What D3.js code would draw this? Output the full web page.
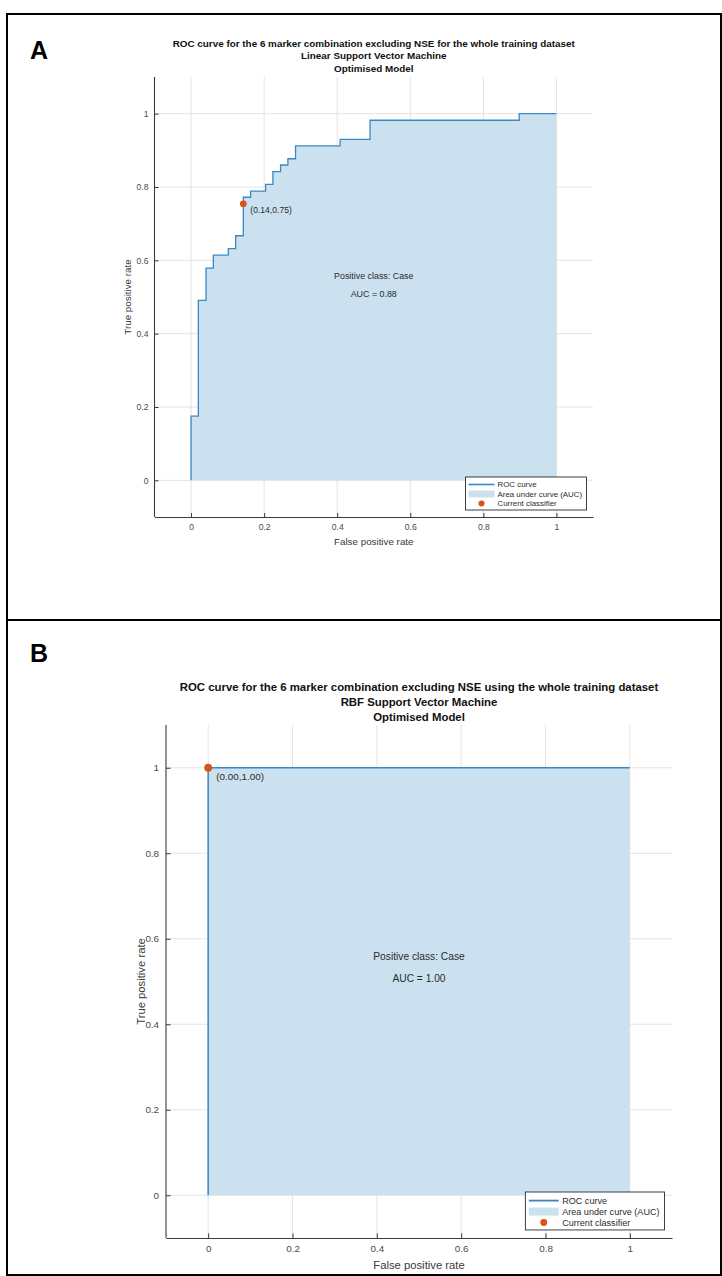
<!DOCTYPE html>
<html>
<head>
<meta charset="utf-8">
<script src="https://cdn.jsdelivr.net/npm/d3@7"></script>
<style>
body { margin: 0; background: #fff; }
text { font-family: "Liberation Sans", Arial, sans-serif; }
</style>
</head>
<body>
<div id="chart"></div>
<script>
// panel A: linear SVM, ROC corners (top of each vertical step)
var fprA = [0, 0, 0.020, 0.041, 0.061, 0.102, 0.122, 0.143, 0.163, 0.204, 0.224, 0.245, 0.265, 0.286, 0.408, 0.490, 0.898, 1.0];
var tprA = [0, 0.175, 0.491, 0.579, 0.614, 0.632, 0.667, 0.772, 0.789, 0.807, 0.842, 0.860, 0.877, 0.912, 0.930, 0.982, 1.0, 1.0];
var pointA = [0.143, 0.754];
var pointLabelA = '(0.14,0.75)';
var aucA = 'AUC = 0.88';
var titleA = ['ROC curve for the 6 marker combination excluding NSE for the whole training dataset',
    'Linear Support Vector Machine',
    'Optimised Model'];

// panel B: RBF SVM
var fprB = [0, 0, 1];
var tprB = [0, 1, 1];
var pointB = [0, 1];
var pointLabelB = '(0.00,1.00)';
var aucB = 'AUC = 1.00';
var titleB = ['ROC curve for the 6 marker combination excluding NSE using the whole training dataset',
    'RBF Support Vector Machine',
    'Optimised Model'];

var ticks = [0, 0.2, 0.4, 0.6, 0.8, 1];
var tickLabels = ['0', '0.2', '0.4', '0.6', '0.8', '1'];
var legendLabels = ['ROC curve', 'Area under curve (AUC)', 'Current classifier'];
var classText = 'Positive class: Case';
var xLabel = 'False positive rate';
var yLabel = 'True positive rate';

var W = 722, H = 1276;
var lineColor = '#3b88c3',
    fillColor = '#cbe1f0',
    dotColor = '#d95319';

var svg = d3.select('#chart').append('svg')
    .attr('width', W)
    .attr('height', H)
    .style('background', '#fff');

// outer frame + divider
svg.append('rect')
    .attr('x', 7).attr('y', 14)
    .attr('width', W - 8).attr('height', H - 15)
    .attr('fill', 'none')
    .attr('stroke', '#000')
    .attr('stroke-width', 2);
svg.append('line')
    .attr('x1', 7).attr('x2', W)
    .attr('y1', 620).attr('y2', 620)
    .attr('stroke', '#000')
    .attr('stroke-width', 2);

function drawPanel(p) {
    var xS = d3.scaleLinear().domain([-0.1, 1.1]).range([p.left, p.right]);
    var yS = d3.scaleLinear().domain([-0.1, 1.1]).range([p.bottom, p.top]);
    var k = p.k; // size factor
    var g = svg.append('g');

    g.append('text')
        .attr('x', p.labelX).attr('y', p.labelY)
        .style('font-size', '25px')
        .style('font-weight', 'bold')
        .text(p.letter);

    // grid
    g.selectAll('.gx').data(ticks).enter().append('line')
        .attr('x1', function (d) { return xS(d); })
        .attr('x2', function (d) { return xS(d); })
        .attr('y1', p.top).attr('y2', p.bottom)
        .attr('stroke', '#e4e4e4');
    g.selectAll('.gy').data(ticks).enter().append('line')
        .attr('y1', function (d) { return yS(d); })
        .attr('y2', function (d) { return yS(d); })
        .attr('x1', p.left).attr('x2', p.right)
        .attr('stroke', '#e4e4e4');

    var pts = p.fpr.map(function (f, i) { return [f, p.tpr[i]]; });
    var area = d3.area()
        .curve(d3.curveStepAfter)
        .x(function (d) { return xS(d[0]); })
        .y0(yS(0))
        .y1(function (d) { return yS(d[1]); });
    var line = d3.line()
        .curve(d3.curveStepAfter)
        .x(function (d) { return xS(d[0]); })
        .y(function (d) { return yS(d[1]); });
    g.append('path').datum(pts).attr('d', area).attr('fill', fillColor);
    g.append('path').datum(pts).attr('d', line)
        .attr('fill', 'none')
        .attr('stroke', lineColor)
        .attr('stroke-width', 1.3 * k);

    // axes
    var xAx = g.append('g')
        .attr('transform', 'translate(0,' + p.bottom + ')')
        .call(d3.axisBottom(xS).tickValues(ticks)
            .tickFormat(function (d, i) { return tickLabels[i]; })
            .tickSizeInner(-4 * k).tickSizeOuter(0).tickPadding(6.5 * k));
    var yAx = g.append('g')
        .attr('transform', 'translate(' + p.left + ',0)')
        .call(d3.axisLeft(yS).tickValues(ticks)
            .tickFormat(function (d, i) { return tickLabels[i]; })
            .tickSizeInner(-4 * k).tickSizeOuter(0).tickPadding(6 * k));
    [xAx, yAx].forEach(function (ax) {
        ax.select('.domain').attr('stroke', '#3a3a3a').attr('stroke-width', 1.1);
        ax.selectAll('.tick line').attr('stroke', '#3a3a3a');
        ax.selectAll('.tick text')
            .attr('fill', '#4a4a4a')
            .style('font-family', '"Liberation Sans", Arial, sans-serif')
            .style('font-size', (8.6 * k) + 'px');
    });
    // the y axis domain must stop at plot top/bottom
    yAx.select('.domain').attr('d', 'M0,' + p.bottom + 'V' + p.top);

    g.append('text')
        .attr('x', (p.left + p.right) / 2)
        .attr('y', p.xLabelY)
        .attr('text-anchor', 'middle')
        .attr('fill', '#3a3a3a')
        .style('font-size', (9.8 * k) + 'px')
        .text(xLabel);
    g.append('text')
        .attr('transform', 'translate(' + p.yLabelX + ',' + ((p.top + p.bottom) / 2) + ') rotate(-90)')
        .attr('text-anchor', 'middle')
        .attr('fill', '#3a3a3a')
        .style('font-size', (9.8 * k) + 'px')
        .text(yLabel);

    // title
    g.selectAll('.title').data(p.title).enter().append('text')
        .attr('x', (p.left + p.right) / 2)
        .attr('y', function (d, i) { return p.titleY + i * p.titleGap; })
        .attr('text-anchor', 'middle')
        .attr('fill', '#111')
        .style('font-size', (9.9 * k) + 'px')
        .style('font-weight', 'bold')
        .text(function (d) { return d; });

    // annotations
    g.append('text')
        .attr('x', xS(0.5)).attr('y', yS(0.55))
        .attr('text-anchor', 'middle')
        .attr('fill', '#2b2b2b')
        .style('font-size', (8.9 * k) + 'px')
        .text(classText);
    g.append('text')
        .attr('x', xS(0.5)).attr('y', yS(0.5))
        .attr('text-anchor', 'middle')
        .attr('fill', '#2b2b2b')
        .style('font-size', (8.9 * k) + 'px')
        .text(p.auc);

    g.append('circle')
        .attr('cx', xS(p.point[0])).attr('cy', yS(p.point[1]))
        .attr('r', 3.4 * k)
        .attr('fill', dotColor);
    g.append('text')
        .attr('x', xS(p.point[0]) + p.ptDx)
        .attr('y', yS(p.point[1]) + p.ptDy)
        .attr('fill', '#2b2b2b')
        .style('font-size', (8.6 * k) + 'px')
        .text(p.pointLabel);

    // legend
    var lw = 121 * k, lh = 33 * k;
    var lx = p.right - 6.5 * k - lw, ly = p.bottom - 7 * k - lh;
    var leg = g.append('g').attr('transform', 'translate(' + lx + ',' + ly + ')');
    leg.append('rect')
        .attr('width', lw).attr('height', lh)
        .attr('fill', '#fff')
        .attr('stroke', '#2b2b2b')
        .attr('stroke-width', 0.9);
    var rowY = [7.5 * k, 17 * k, 26.5 * k];
    leg.append('line')
        .attr('x1', 3 * k).attr('x2', 29 * k)
        .attr('y1', rowY[0]).attr('y2', rowY[0])
        .attr('stroke', lineColor).attr('stroke-width', 1.6 * k);
    leg.append('rect')
        .attr('x', 3 * k).attr('y', rowY[1] - 3.5 * k)
        .attr('width', 26 * k).attr('height', 7 * k)
        .attr('fill', fillColor);
    leg.append('circle')
        .attr('cx', 16 * k).attr('cy', rowY[2])
        .attr('r', 3 * k)
        .attr('fill', dotColor);
    leg.selectAll('.lt').data(legendLabels).enter().append('text')
        .attr('x', 32 * k)
        .attr('y', function (d, i) { return rowY[i]; })
        .attr('dy', '0.35em')
        .attr('fill', '#2b2b2b')
        .style('font-size', (7.9 * k) + 'px')
        .text(function (d) { return d; });
}

drawPanel({
    letter: 'A', labelX: 30, labelY: 59,
    left: 154.5, right: 593, top: 77, bottom: 517, k: 1,
    fpr: fprA, tpr: tprA, point: pointA, pointLabel: pointLabelA, auc: aucA,
    title: titleA, titleY: 46.5, titleGap: 12.7,
    xLabelY: 545, yLabelX: 131,
    ptDx: 7, ptDy: 9
});
drawPanel({
    letter: 'B', labelX: 30, labelY: 662,
    left: 166, right: 672, top: 725, bottom: 1238, k: 1.15,
    fpr: fprB, tpr: tprB, point: pointB, pointLabel: pointLabelB, auc: aucB,
    title: titleB, titleY: 691, titleGap: 15,
    xLabelY: 1269, yLabelX: 145,
    ptDx: 8, ptDy: 12
});
</script>
</body>
</html>
